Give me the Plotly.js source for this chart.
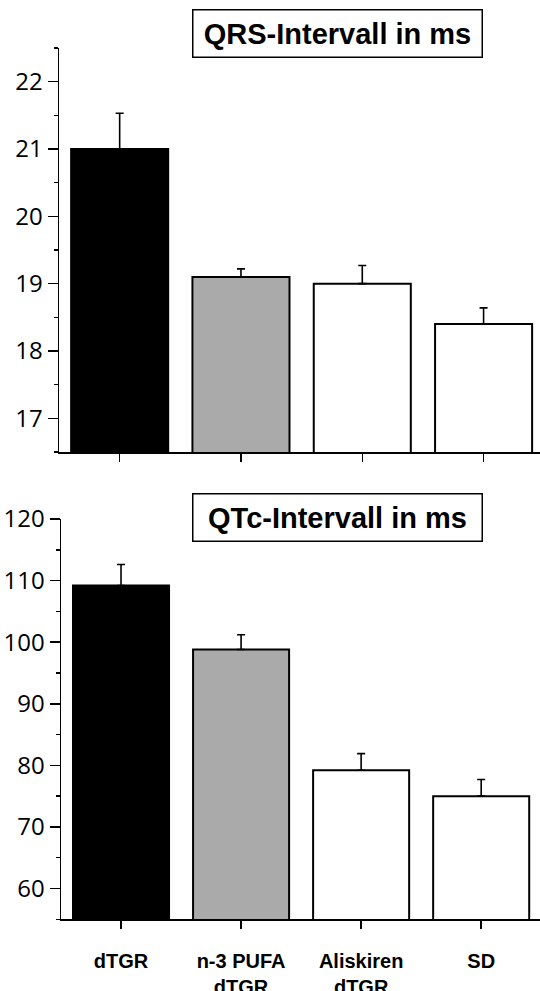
<!DOCTYPE html>
<html>
<head>
<meta charset="utf-8">
<script src="https://cdn.plot.ly/plotly-3.0.1.min.js"></script>
<style>
  html, body { margin: 0; padding: 0; background: #ffffff; }
  #chart { width: 540px; height: 991px; }
</style>
</head>
<body>
<div id="chart"></div>
<script>
// Groups shown on the x axis
const groups = ['dTGR', 'n-3 PUFA<br>dTGR', 'Aliskiren<br>dTGR', 'SD'];

// QRS interval (ms): mean and upper error
const qrsMean = [21.0, 19.1, 19.0, 18.4];
const qrsErr  = [0.53, 0.12, 0.27, 0.24];

// QTc interval (ms): mean and upper error
const qtcMean = [109.2, 98.8, 79.2, 75.0];
const qtcErr  = [3.4, 2.4, 2.7, 2.7];

// Panel headings
const qrsTitle = 'QRS-Intervall in ms';
const qtcTitle = 'QTc-Intervall in ms';

const barFill = ['#000000', '#aaaaaa', '#ffffff', '#ffffff'];
const zeros = groups.map(() => 0);

function barTrace(values, errs, xa, ya) {
  return {
    type: 'bar',
    x: groups,
    y: values,
    xaxis: xa,
    yaxis: ya,
    width: 0.8,
    marker: { color: barFill, line: { color: '#000000', width: 2 } },
    error_y: {
      type: 'data', symmetric: false, array: errs, arrayminus: zeros,
      color: '#000000', thickness: 1.6, width: 4
    },
    hoverinfo: 'skip',
    showlegend: false
  };
}

const H = 991, W = 540;
const py = px => 1 - px / H;

const tickFont = { family: 'Open Sans, sans-serif', size: 24, color: '#000000' };
const headFont = { family: 'Liberation Sans, Arial, sans-serif', size: 29, color: '#000000' };

const yCommon = {
  showgrid: false, zeroline: false, showline: true, linecolor: '#000000', linewidth: 1.5,
  ticks: 'outside', ticklen: 10, tickwidth: 1.5, tickcolor: '#000000',
  tickfont: tickFont, automargin: false, fixedrange: true
};
const xCommon = {
  type: 'category', showgrid: false, zeroline: false, showline: true,
  linecolor: '#000000', linewidth: 1.5,
  ticks: 'outside', ticklen: 8, tickwidth: 1.5, tickcolor: '#000000',
  automargin: false, fixedrange: true
};

const layout = {
  width: W, height: H,
  margin: { l: 0, r: 0, t: 0, b: 0 },
  paper_bgcolor: '#ffffff', plot_bgcolor: '#ffffff',
  bargap: 0.2,
  xaxis: Object.assign({}, xCommon, {
    domain: [59 / W, 1], range: [-0.5, 3.465], anchor: 'y', showticklabels: false
  }),
  yaxis: Object.assign({}, yCommon, {
    domain: [py(452), py(48)], range: [16.5, 22.5], anchor: 'x',
    tickvals: [17, 18, 19, 20, 21, 22],
    minor: { tickvals: [16.5, 17.5, 18.5, 19.5, 20.5, 21.5, 22.5], ticks: 'outside', ticklen: 4, tickwidth: 1.5, tickcolor: '#000000' }
  }),
  xaxis2: Object.assign({}, xCommon, {
    domain: [61 / W, 1], range: [-0.5, 3.49], anchor: 'y2', showticklabels: true,
    tickfont: { family: 'Liberation Sans, Arial, sans-serif', size: 20, color: '#000000', weight: 'bold' },
    ticklabelstandoff: 15
  }),
  yaxis2: Object.assign({}, yCommon, {
    domain: [py(919.3), py(519)], range: [55, 120], anchor: 'x2',
    tickvals: [60, 70, 80, 90, 100, 110, 120],
    minor: { tickvals: [55, 65, 75, 85, 95, 105, 115], ticks: 'outside', ticklen: 4, tickwidth: 1.5, tickcolor: '#000000' }
  }),
  annotations: [
    {
      xref: 'paper', yref: 'paper', x: 337.5 / W, y: py(33.7), xanchor: 'center', yanchor: 'middle',
      text: '<b>' + qrsTitle + '</b>', showarrow: false, font: headFont,
      bordercolor: '#000000', borderwidth: 1.5, borderpad: 0, bgcolor: '#ffffff',
      width: 288, height: 46
    },
    {
      xref: 'paper', yref: 'paper', x: 337.5 / W, y: py(517), xanchor: 'center', yanchor: 'middle',
      text: '<b>' + qtcTitle + '</b>', showarrow: false, font: headFont,
      bordercolor: '#000000', borderwidth: 1.5, borderpad: 0, bgcolor: '#ffffff',
      width: 288, height: 46
    }
  ]
};

Plotly.newPlot('chart', [
  barTrace(qrsMean, qrsErr, 'x', 'y'),
  barTrace(qtcMean, qtcErr, 'x2', 'y2')
], layout, { staticPlot: true, displayModeBar: false });
</script>
</body>
</html>
